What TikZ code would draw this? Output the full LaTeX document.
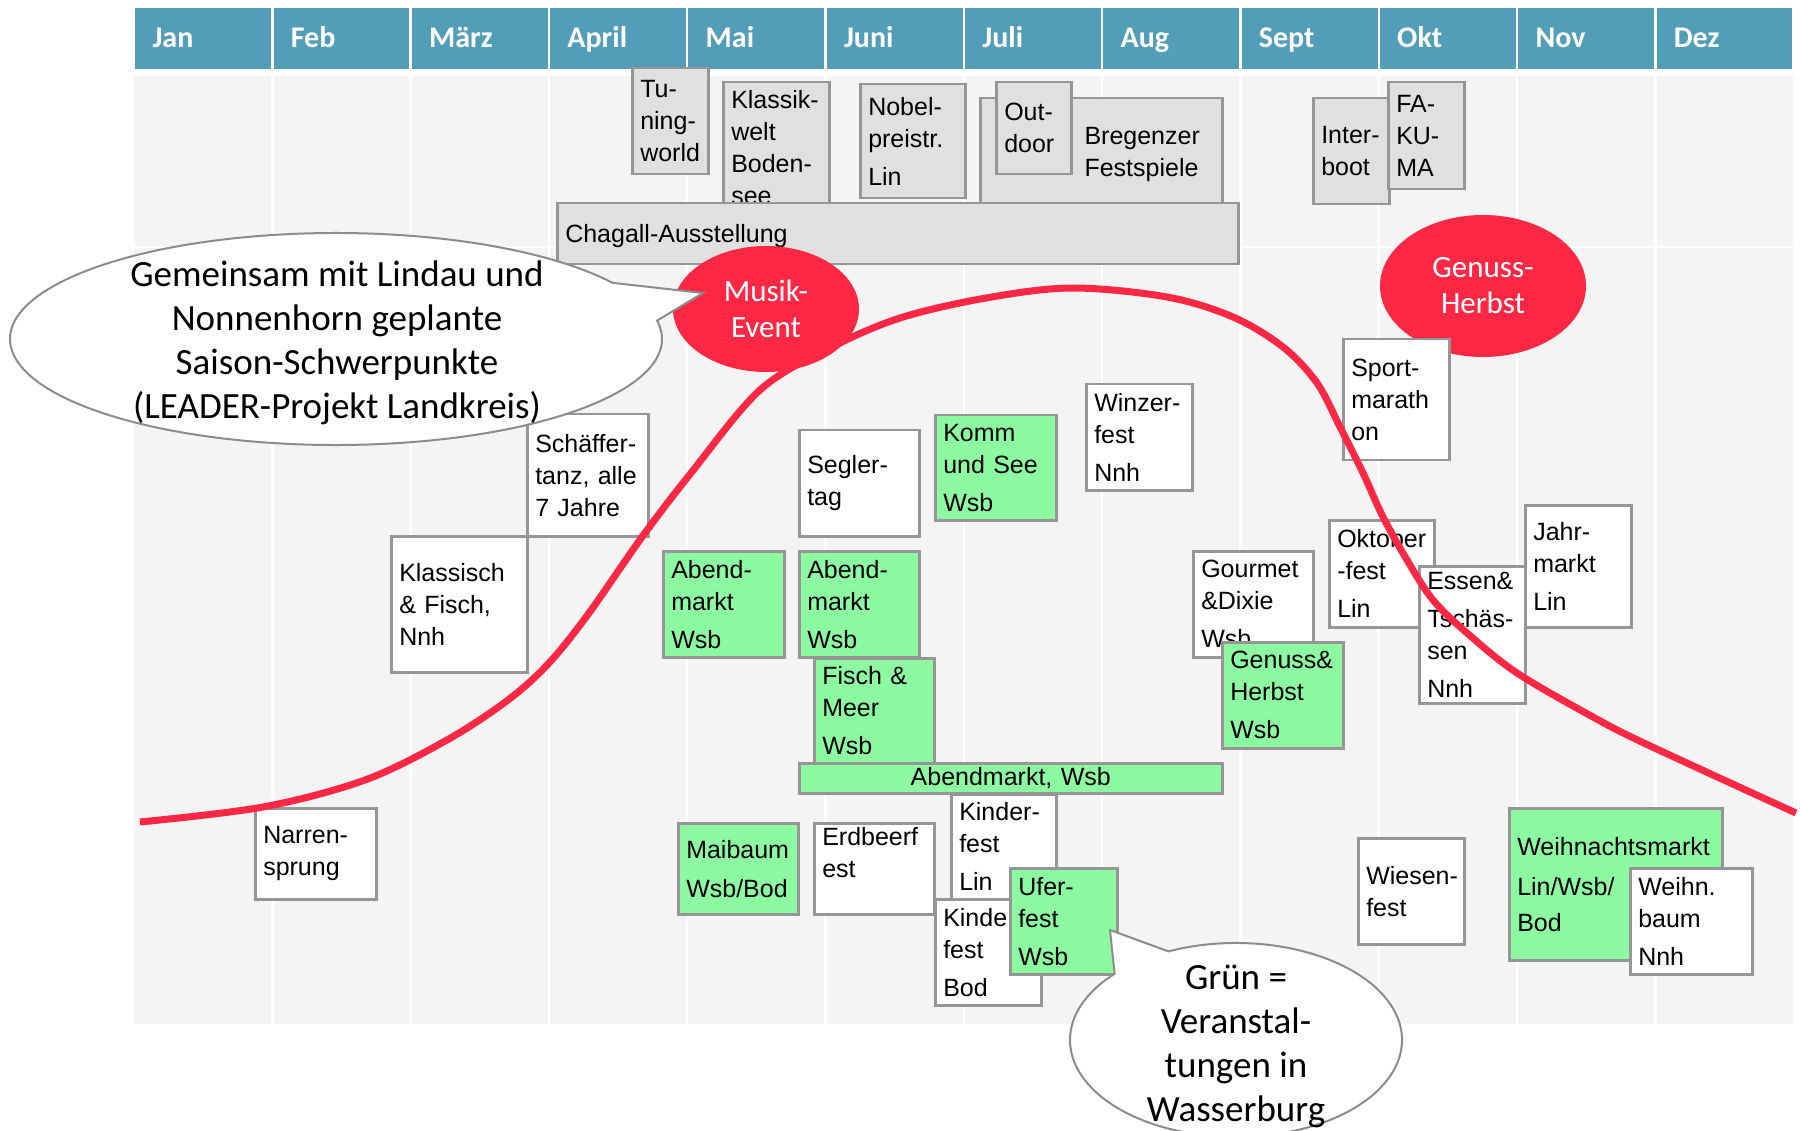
\documentclass[tikz,border=0pt]{standalone}
\usepackage{fontspec}
\setmainfont{Carlito}
\newfontfamily\evfont{Liberation Sans}
\usetikzlibrary{shapes.geometric}

\definecolor{hdrblue}{RGB}{82,157,183}
\definecolor{bodygray}{RGB}{244,244,244}
\definecolor{boxgray}{RGB}{224,224,224}
\definecolor{boxline}{RGB}{150,150,150}
\definecolor{evgreen}{RGB}{140,250,160}
\definecolor{hotred}{RGB}{255,40,68}
\definecolor{callgray}{RGB}{140,140,140}

\hyphenpenalty=10000
\exhyphenpenalty=10000

\begin{document}
\begin{tikzpicture}[x=1pt, y=-1pt,
    evbox/.style={draw=boxline, line width=2.5pt, anchor=north west, align=left,
      inner xsep=8pt, inner ysep=0pt, font=\evfont\fontsize{25}{32}\selectfont},
    graybox/.style={evbox, fill=boxgray},
    whitebox/.style={evbox, fill=white},
    greenbox/.style={evbox, fill=evgreen},
    redblob/.style={ellipse, fill=hotred, text=white, inner sep=0pt, align=center,
      font=\fontsize{31}{36}\selectfont},
    callout/.style={draw=callgray, line width=2pt, fill=white},
    calltext/.style={align=center, font=\fontsize{37}{44}\selectfont},
    month/.style={anchor=base west, text=white, font=\bfseries\fontsize{30}{36}\selectfont}]

    \clip (0,0) rectangle (1800,1131);
    \fill[white] (0,0) rectangle (1800,1131);

    % months
    \foreach \m [count=\i from 0] in {Jan,Feb,März,April,Mai,Juni,Juli,Aug,Sept,Okt,Nov,Dez}{
      \fill[hdrblue] (134+\i*138.3+1.2,8) rectangle (134+\i*138.3+137.1,69);
      \node[month] (mon\i) at (134+\i*138.3+15,48) {\m};
    }

    % table body
    \fill[bodygray] (134,76) rectangle (1793,1024);
    \foreach \i in {1,...,11}
      \draw[white, line width=2.5pt] (134+\i*138.3,76) -- (134+\i*138.3,1024);
    \draw[white, line width=2.5pt] (134,247) -- (1793,247);

    \node[redblob, minimum width=206pt, minimum height=142pt] (herbst) at (1483,286) {Genuss-\\Herbst};

    % big events
    \node[graybox, minimum width=76pt, minimum height=106pt, text width=60pt] (tuning) at (631,67) {Tu-\\ning-\\world};
    \node[graybox, minimum width=106pt, minimum height=131pt, text width=90pt] (klassikwelt) at (722,81) {Klassik-\\welt\\Boden-\\see};
    \node[graybox, minimum width=105pt, minimum height=114pt, text width=89pt] (nobel) at (859,83) {Nobel-\\preistr.\\[6pt]Lin};
    \node[graybox, minimum width=242pt, minimum height=113pt] (bregenz) at (979,97) {};
    \node[anchor=west, align=left, font=\evfont\fontsize{25}{32}\selectfont] (bregtxt) at ([xshift=102pt]bregenz.west) {Bregenzer\\Festspiele};
    \node[graybox, minimum width=75pt, minimum height=92pt, text width=59pt] (outdoor) at (995,81) {Out-\\door};
    \node[graybox, minimum width=681pt, minimum height=61pt, text width=665pt, text depth=0pt] (chagall) at (556,202) {Chagall-Ausstellung};
    \node[graybox, minimum width=76pt, minimum height=106pt, text width=60pt] (interboot) at (1312,97) {Inter-\\boot};
    \node[graybox, minimum width=76pt, minimum height=107pt, text width=60pt] (fakuma) at (1387,81) {FA-\\KU-\\MA};

    % local events
    \node[whitebox, minimum width=121pt, minimum height=122pt, text width=105pt] (schaeffer) at (526,413) {Schäffer-\\tanz, alle\\7 Jahre};
    \node[whitebox, minimum width=136pt, minimum height=136pt, text width=120pt] (klassisch) at (390,535) {Klassisch\\\& Fisch,\\Nnh};
    \node[whitebox, minimum width=121pt, minimum height=91pt, text width=105pt] (narren) at (254,807) {Narren-\\sprung};
    \node[greenbox, minimum width=121pt, minimum height=106pt, text width=105pt] (abendmai) at (662,550) {Abend-\\markt\\[6pt]Wsb};
    \node[whitebox, minimum width=120pt, minimum height=106pt, text width=104pt] (segler) at (798,429) {Segler-\\tag};
    \node[greenbox, minimum width=120pt, minimum height=106pt, text width=104pt] (abendjuni) at (798,550) {Abend-\\markt\\[6pt]Wsb};
    \node[greenbox, minimum width=120pt, minimum height=105pt, text width=104pt] (fischmeer) at (813,657) {Fisch \&\\Meer\\[6pt]Wsb};
    \node[greenbox, minimum width=423pt, minimum height=30pt, text width=407pt, align=center] (abendbar) at (798,762) {Abendmarkt, Wsb};
    \node[greenbox, minimum width=121pt, minimum height=105pt, text width=105pt] (komm) at (934,414) {Komm\\und See\\[6pt]Wsb};
    \node[whitebox, minimum width=106pt, minimum height=106pt, text width=90pt] (winzer) at (1085,383) {Winzer-\\fest\\[6pt]Nnh};
    \node[whitebox, minimum width=106pt, minimum height=121pt, text width=90pt] (sport) at (1342,338) {Sport-\\marath\\on};
    \node[whitebox, minimum width=120pt, minimum height=106pt, text width=104pt] (gourmet) at (1192,550) {Gourmet\\\&Dixie\\[6pt]Wsb};
    \node[greenbox, minimum width=121pt, minimum height=106pt, text width=105pt] (genussbox) at (1221,641) {Genuss\&\\Herbst\\[6pt]Wsb};
    \node[whitebox, minimum width=105pt, minimum height=107pt, text width=89pt] (oktober) at (1328,519) {Oktober\\-fest\\[6pt]Lin};
    \node[whitebox, minimum width=106pt, minimum height=137pt, text width=90pt] (essen) at (1418,565) {Essen\&\\[6pt]Tschäs-\\sen\\[6pt]Nnh};
    \node[whitebox, minimum width=106pt, minimum height=122pt, text width=90pt] (jahr) at (1524,504) {Jahr-\\markt\\[6pt]Lin};
    \node[greenbox, minimum width=120pt, minimum height=91pt, text width=104pt] (maibaum) at (677,822) {Maibaum\\[7pt]Wsb/Bod};
    \node[whitebox, minimum width=120pt, minimum height=91pt, text width=104pt] (erdbeer) at (813,822) {Erdbeerf\\est\\\mbox{}};
    \node[whitebox, minimum width=105pt, minimum height=105pt, text width=89pt] (kinderlin) at (950,793) {Kinder-\\fest\\[6pt]Lin};
    \node[whitebox, minimum width=106pt, minimum height=106pt, text width=90pt] (kindebod) at (934,898) {Kinde\\fest\\[6pt]Bod};
    \node[greenbox, minimum width=107pt, minimum height=106pt, text width=91pt] (ufer) at (1009,867) {Ufer-\\fest\\[6pt]Wsb};
    \node[whitebox, minimum width=106pt, minimum height=106pt, text width=90pt] (wiesen) at (1357,837) {Wiesen-\\fest};
    \node[greenbox, minimum width=213pt, minimum height=152pt, text width=197pt] (weihmarkt) at (1508,807) {Weihnachtsmarkt\\[8pt]Lin/Wsb/\\[4pt]Bod};
    \node[whitebox, minimum width=122pt, minimum height=106pt, text width=106pt] (weihbaum) at (1629,867) {Weihn.\\baum\\[6pt]Nnh};

    % season curve
    \draw[hotred, line width=7pt] plot[smooth, tension=0.55] coordinates {
      (140,822) (263,807) (365,780) (447,740) (508,700) (549,663) (589,613)
      (642,537) (691,473) (760,390) (830,348) (900,318) (986,298) (1072,288)
      (1167,297) (1233,317) (1283,347) (1317,383) (1340,427) (1363,473)
      (1383,517) (1407,560) (1433,600) (1467,633) (1517,673) (1593,717)
      (1646,744) (1796,813)};

    \node[redblob, minimum width=186pt, minimum height=126pt] (musik) at (766,309) {Musik-\\Event};

    % callouts
    \coordinate (lc) at (336,339);
    \draw[callout] (lc) ++(-10:326 and 106)
      arc[start angle=-10, end angle=328, x radius=326, y radius=106] -- (703,293) -- cycle;
    \node[calltext] (leadertxt) at (337,343) {Gemeinsam mit Lindau und\\Nonnenhorn geplante\\Saison-Schwerpunkte\\(LEADER-Projekt Landkreis)};

    \coordinate (gc) at (1236,1040);
    \draw[callout] (gc) ++(-114:166 and 97)
      arc[start angle=-114, end angle=223, x radius=166, y radius=97] -- (1110,930) -- cycle;
    \node[calltext] (gruentxt) at (1236,1046) {Grün =\\Veranstal-\\tungen in\\Wasserburg};

\end{tikzpicture}
\end{document}
